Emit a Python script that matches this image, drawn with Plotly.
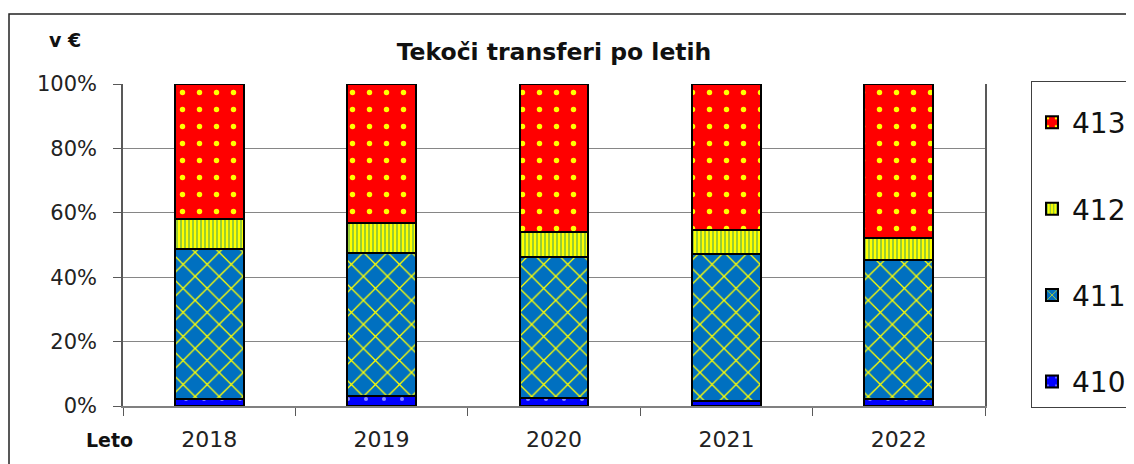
import plotly.graph_objects as go

years = ["2018", "2019", "2020", "2021", "2022"]
series_names = ["410", "411", "412", "413"]
v410 = [2.2, 3.1, 2.4, 1.6, 2.1]
v411 = [46.5, 44.3, 44.0, 45.6, 43.2]
v412 = [9.3, 9.3, 7.7, 7.5, 6.8]
v413 = [42.0, 43.3, 45.9, 45.3, 47.9]
y_tickvals = [0, 20, 40, 60, 80, 100]
y_ticktext = ["0%", "20%", "40%", "60%", "80%", "100%"]

styles = {
    "410": dict(bg="#0000FF", fg="#8C8CFF", shape=".", size=18, solidity=0.04, rank=4),
    "411": dict(bg="#0070C0", fg="#FFFF00", shape="x", size=17, solidity=0.15, rank=3),
    "412": dict(bg="#FFFF00", fg="#9ACD32", shape="|", size=4, solidity=0.5, rank=2),
    "413": dict(bg="#FF0000", fg="#FFFF00", shape=".", size=17, solidity=0.08, rank=1),
}
values = {"410": v410, "411": v411, "412": v412, "413": v413}

fig = go.Figure()
for name in series_names:
    s = styles[name]
    fig.add_trace(go.Bar(
        x=years, y=values[name], name=name, legendgroup=name, legendrank=s["rank"],
        marker=dict(
            color=s["bg"],
            line=dict(color="#000000", width=2),
            pattern=dict(shape=s["shape"], bgcolor=s["bg"], fgcolor=s["fg"],
                         size=s["size"], solidity=s["solidity"], fillmode="replace"),
        ),
    ))

# figure is drawn with an 8px page offset; geometry below is in figure pixels
W, H = 1126, 456
L, R, T, B = 115, 149, 76, 58
PW, PH = W - L - R, H - T - B


def px(x):
    return (x - 8 - L) / PW


def py(y):
    return (H - B - (y - 8)) / PH


fig.update_layout(
    width=W, height=H,
    barmode="stack", bargap=0.6,
    margin=dict(l=L, r=R, t=T, b=B, autoexpand=False),
    paper_bgcolor="white", plot_bgcolor="white",
    font=dict(family="DejaVu Sans", color="#222222"),
    title=dict(text="<b>Tekoči transferi po letih</b>", x=(L + PW / 2) / W,
               xanchor="center", y=1 - (52 - 8) / H, yanchor="middle",
               font=dict(family="DejaVu Sans", size=23.5, color="#111111")),
    showlegend=True,
    legend=dict(x=px(1031), y=py(81), xanchor="left", yanchor="top",
                traceorder="grouped", tracegroupgap=47, maxheight=420,
                title=dict(text=" ", font=dict(size=12)),
                bordercolor="#404040", borderwidth=1, bgcolor="white",
                font=dict(family="DejaVu Sans", size=28, color="#111111"),
                itemwidth=30),
)

fig.update_xaxes(
    type="category", tickson="boundaries", ticks="outside", ticklen=8,
    tickcolor="#595959", showline=True, linecolor="#808080", linewidth=1.5,
    tickfont=dict(family="DejaVu Sans", size=22, color="#222222"),
    ticklabelstandoff=13, showgrid=False,
)
fig.update_yaxes(
    range=[0, 100], tickvals=y_tickvals, ticktext=y_ticktext,
    ticks="outside", ticklen=8,
    tickcolor="#595959", showline=True, linecolor="#595959", linewidth=1.5,
    mirror=True, gridcolor="#868686", gridwidth=1, zeroline=False,
    tickfont=dict(family="DejaVu Sans", size=21, color="#222222"),
    ticklabelstandoff=12,
)

# outer chart border (left edge as close to the page edge as the figure allows)
fig.add_shape(type="rect", xref="paper", yref="paper",
              x0=px(9), x1=px(1160), y0=py(490), y1=py(14),
              line=dict(color="#222222", width=1.5), layer="below")

fig.add_annotation(text="<b>v €</b>", xref="paper", yref="paper",
                   x=px(65), y=py(40), showarrow=False,
                   xanchor="center", yanchor="middle",
                   font=dict(family="DejaVu Sans", size=19, color="#111111"))
fig.add_annotation(text="<b>Leto</b>", xref="paper", yref="paper",
                   x=px(109), y=py(440), showarrow=False,
                   xanchor="center", yanchor="middle",
                   font=dict(family="DejaVu Sans", size=19, color="#111111"))

fig.write_html("out.html")
